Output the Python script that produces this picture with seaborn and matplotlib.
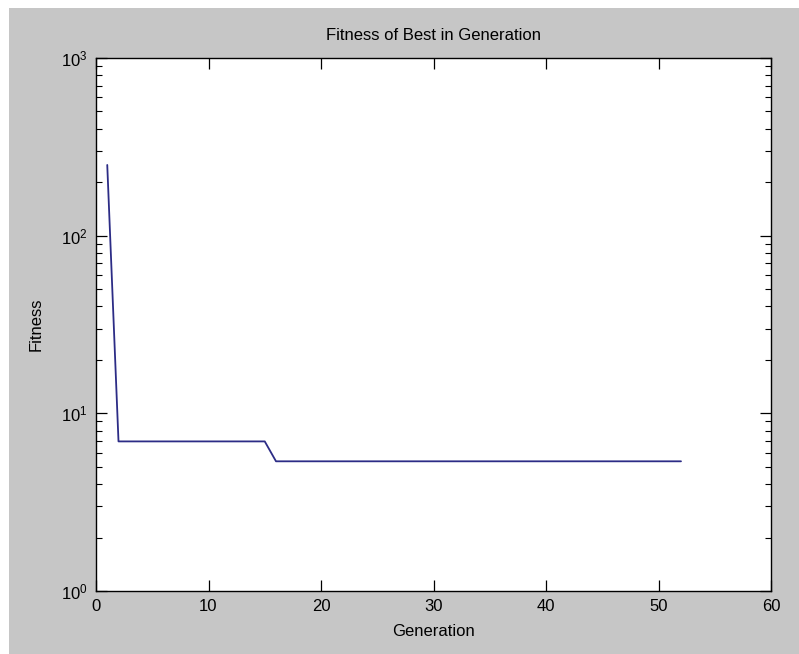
import numpy as np
import pandas as pd
import matplotlib
matplotlib.use("Agg")
import matplotlib.pyplot as plt
from matplotlib.patches import Rectangle
from matplotlib.ticker import LogLocator, FixedLocator, FuncFormatter, NullFormatter
import seaborn as sns

# Best fitness found in each generation of the run
generation = [1, 2, 3, 4, 5, 6, 7, 8, 9, 10, 11, 12, 13, 14, 15, 16, 17, 18, 19, 20,
              21, 22, 23, 24, 25, 26, 27, 28, 29, 30, 31, 32, 33, 34, 35, 36, 37, 38,
              39, 40, 41, 42, 43, 44, 45, 46, 47, 48, 49, 50, 51, 52]
best_fitness = [250.0, 6.95, 6.95, 6.95, 6.95, 6.95, 6.95, 6.95, 6.95, 6.95, 6.95,
                6.95, 6.95, 6.95, 6.95, 5.37, 5.37, 5.37, 5.37, 5.37, 5.37, 5.37,
                5.37, 5.37, 5.37, 5.37, 5.37, 5.37, 5.37, 5.37, 5.37, 5.37, 5.37,
                5.37, 5.37, 5.37, 5.37, 5.37, 5.37, 5.37, 5.37, 5.37, 5.37, 5.37,
                5.37, 5.37, 5.37, 5.37, 5.37, 5.37, 5.37, 5.37]
x_ticks = [0, 10, 20, 30, 40, 50, 60]

df = pd.DataFrame({"Generation": generation, "Fitness": best_fitness})

sns.set_style("ticks")
plt.rcParams["font.family"] = ["Liberation Sans", "DejaVu Sans"]
plt.rcParams["mathtext.default"] = "regular"
plt.rcParams["text.color"] = "black"
plt.rcParams["axes.labelcolor"] = "black"
plt.rcParams["xtick.color"] = "black"
plt.rcParams["ytick.color"] = "black"

W, H = 799, 654
fig = plt.figure(figsize=(W / 100, H / 100), dpi=100, facecolor="white")
# grey window background, leaving a thin white margin on the top and left
fig.patches.append(Rectangle((9 / W, 0), 1 - 9 / W, 1 - 8 / H,
                             transform=fig.transFigure, facecolor="#c6c6c6",
                             edgecolor="none", zorder=-10))

left, right, top, bottom = 96, 771, 58, 591
ax = fig.add_axes([left / W, 1 - bottom / H, (right - left) / W, (bottom - top) / H])
ax.set_facecolor("white")

sns.lineplot(data=df, x="Generation", y="Fitness", ax=ax, color="#2c2c86",
             linewidth=1.3, estimator=None)

ax.set_yscale("log")
ax.set_ylim(1, 1000)
ax.set_xlim(0, 60)
ax.xaxis.set_major_locator(FixedLocator(x_ticks))
ax.yaxis.set_major_locator(LogLocator(base=10, numticks=10))
ax.yaxis.set_minor_locator(LogLocator(base=10, subs=np.arange(2, 10), numticks=10))
ax.yaxis.set_minor_formatter(NullFormatter())
ax.yaxis.set_major_formatter(FuncFormatter(lambda v, p: r"$10^{%d}$" % round(np.log10(v))))

for s in ax.spines.values():
    s.set_visible(True)
    s.set_color("black")
    s.set_linewidth(1.0)

ax.tick_params(which="both", direction="in", top=True, right=True, colors="black")
ax.tick_params(which="major", length=8, width=0.9, labelsize=12, pad=6)
ax.tick_params(which="minor", length=4, width=0.8)

ax.set_title("Fitness of Best in Generation", fontsize=12, pad=13, color="black")
ax.set_xlabel("Generation", fontsize=12, color="black")
ax.set_ylabel("Fitness", fontsize=12, color="black")
ax.xaxis.set_label_coords(0.5, -0.062)
ax.yaxis.set_label_coords(-0.078, 0.5)

fig.savefig("out.png", dpi=100, facecolor=fig.get_facecolor())
